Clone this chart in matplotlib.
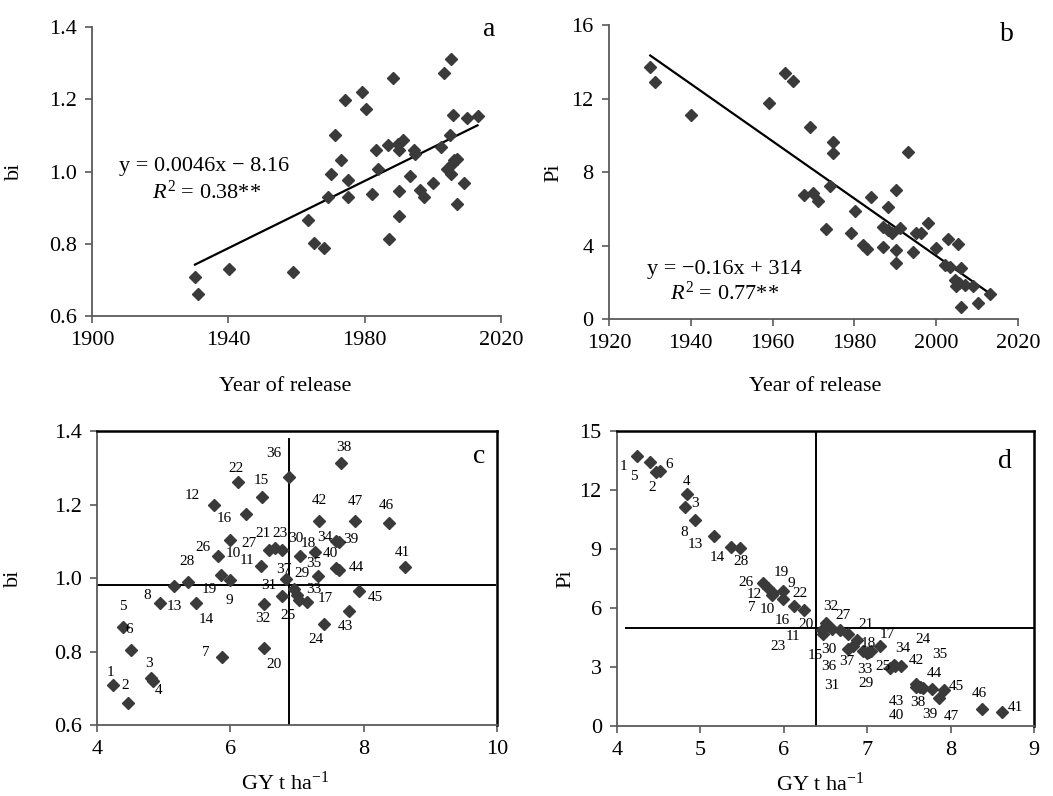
import numpy as np
import matplotlib
matplotlib.use("Agg")
import matplotlib.pyplot as plt

plt.rcParams['font.family'] = 'Liberation Serif'
plt.rcParams['mathtext.fontset'] = 'custom'
plt.rcParams['mathtext.rm'] = 'Liberation Serif'
plt.rcParams['mathtext.it'] = 'Liberation Serif:italic'

# panel a: year of release vs bi
year_a = [1930.2, 1931.2, 1940.3, 1959.1, 1963.5, 1965.2, 1968.2, 1969.2, 1970.1, 1971.3,
          1973.1, 1974.3, 1975.2, 1975.2, 1979.2, 1980.3, 1982.1, 1983.2, 1984.0, 1986.9,
          1987.0, 1988.2, 1989.7, 1990.1, 1990.1, 1990.2, 1991.2, 1993.2, 1994.4, 1994.9,
          1996.1, 1997.5, 2000.1, 2002.4, 2003.2, 2004.2, 2004.9, 2005.2, 2005.3, 2006.0,
          2006.2, 2007.0, 2007.2, 2009.0, 2010.0, 2013.1, 2005.6]
bi_a = [0.709, 0.661, 0.729, 0.723, 0.865, 0.801, 0.787, 0.930, 0.993, 1.100,
        1.031, 1.199, 0.976, 0.930, 1.220, 1.172, 0.937, 1.061, 1.008, 1.073,
        0.812, 1.260, 1.077, 0.947, 0.876, 1.059, 1.088, 0.987, 1.059, 1.048,
        0.948, 0.930, 0.969, 1.068, 1.273, 1.008, 1.100, 0.994, 1.312, 1.156,
        1.031, 0.910, 1.036, 0.967, 1.149, 1.153, 1.020]

# panel b: year of release vs Pi
year_b = [1930.1, 1931.2, 1940.1, 1959.1, 1963.0, 1965.0, 1967.8, 1969.1, 1969.9, 1971.1,
          1973.1, 1974.0, 1974.9, 1974.9, 1979.1, 1980.1, 1982.1, 1983.2, 1984.1, 1987.0,
          1987.0, 1988.2, 1988.2, 1989.3, 1990.1, 1990.1, 1990.1, 1991.1, 1993.1, 1994.3,
          1995.0, 1996.2, 1998.0, 2000.0, 2002.1, 2002.9, 2003.3, 2004.5, 2004.9, 2005.3,
          2005.7, 2006.1, 2006.1, 2007.0, 2009.0, 2010.2, 2013.1]
pi_b = [13.74, 12.92, 11.11, 11.78, 13.41, 12.97, 6.76, 10.47, 6.85, 6.45,
        4.89, 7.27, 9.66, 9.06, 4.67, 5.91, 4.04, 3.81, 6.67, 3.91,
        5.04, 6.12, 4.86, 4.67, 7.03, 3.77, 3.04, 4.95, 9.11, 3.68,
        4.67, 4.67, 5.25, 3.86, 2.95, 4.35, 2.86, 2.14, 1.81, 4.08,
        1.96, 2.77, 0.69, 1.87, 1.81, 0.87, 1.38]

# panels c and d: genotypes 1-47
genotype = list(range(1, 48))
gy = [4.24, 4.465, 4.81, 4.84, 4.39, 4.515, 5.87, 4.94, 5.99, 5.99,
      6.46, 5.75, 5.16, 5.48, 6.47, 6.24, 7.15, 7.05, 5.86, 6.50,
      6.675, 6.12, 6.775, 7.41, 7.025, 5.81, 6.575, 5.37, 6.95, 7.275,
      6.775, 6.50, 7.00, 7.585, 7.315, 6.875, 6.835, 7.665, 7.635, 7.585,
      8.62, 7.33, 7.775, 7.635, 7.925, 8.38, 7.865]
bi = [0.709, 0.661, 0.728, 0.719, 0.866, 0.803, 0.786, 0.932, 0.994, 1.103,
      1.033, 1.200, 0.977, 0.932, 1.221, 1.173, 0.936, 1.059, 1.007, 0.810,
      1.083, 1.260, 1.075, 0.874, 0.939, 1.059, 1.077, 0.989, 0.971, 1.071,
      0.950, 0.930, 0.953, 1.100, 1.005, 1.275, 0.998, 1.314, 1.098, 1.028,
      1.030, 1.155, 0.909, 1.023, 0.966, 1.150, 1.155]
pi = [13.74, 12.92, 11.11, 11.78, 13.41, 12.97, 6.76, 10.47, 6.85, 6.45,
      4.89, 7.27, 9.66, 9.06, 4.67, 5.91, 4.04, 3.81, 6.67, 5.04,
      4.86, 6.12, 4.67, 3.04, 3.77, 7.03, 4.95, 9.11, 3.80, 2.95,
      3.90, 5.25, 3.70, 2.14, 3.10, 4.35, 4.08, 1.95, 2.00, 1.99,
      0.69, 3.05, 1.87, 1.96, 1.81, 0.88, 1.42]

# reference lines
bi_ref_c, gy_ref_c = 0.982, 6.88
pi_ref_d, gy_ref_d = 5.0, 6.38

# label offsets in pixels (dx, dy) for genotype numbers
off_c = [(-3, 12), (-3, 17), (-2, 14), (6, -9), (0, 21), (-2, 21), (-16, 4), (-12, 8), (0, -20), (4, -13),
         (-14, 5), (-21, 9), (0, -20), (11, -16), (0, 16), (-22, -4), (18, 3), (8, 13), (-12, -14), (10, -17),
         (-12, 14), (-2, 14), (-2, 17), (-8, -15), (-11, -15), (-15, 9), (-20, 6), (-1, 21), (8, 15), (-20, 13),
         (-13, 11), (-1, -15), (17, 6), (-11, 4), (-4, 13), (-15, 23), (-2, 9), (2, 15), (11, 3), (-6, 14),
         (-3, 14), (0, 21), (-3, -15), (17, 2), (17, -7), (-3, 17), (1, 20)]
off_d = [(-14, -11), (-4, -16), (10, 4), (-1, 13), (-16, -14), (9, 6), (-21, -14), (-11, -12), (8, 8), (-16, -10),
         (-29, -7), (-9, -12), (-19, -9), (-23, -10), (-8, -21), (-22, -11), (8, 12), (-3, 8), (9, 22), (-20, 2),
         (26, 6), (6, 12), (-70, -12), (22, 27), (14, -15), (-22, 5), (11, 13), (10, -15), (3, -32), (-61, 18),
         (-17, -36), (5, 16), (-2, -16), (-13, 35), (46, 10), (-28, -26), (-7, -16), (-5, -15), (10, -28), (-20, -29),
         (13, 5), (22, 5), (-36, -12), (14, 14), (12, 4), (-3, 15), (12, -18)]

MK = dict(marker='D', ms=6.6, ls='none', color='#3a3a3a', mec='#3a3a3a', clip_on=False, zorder=3)
SPINE = '#5a5a5a'


def style_axes(ax, box=False):
    for s in ['left', 'bottom']:
        ax.spines[s].set_color(SPINE)
        ax.spines[s].set_linewidth(1.3)
    if box:
        for s in ['top', 'right']:
            ax.spines[s].set_color('black')
            ax.spines[s].set_linewidth(1.8)
    else:
        ax.spines['top'].set_visible(False)
        ax.spines['right'].set_visible(False)
    ax.tick_params(direction='out', length=5, width=1.2, color=SPINE, labelsize=16, pad=6)


def trend(ax, x, y):
    x = np.asarray(x)
    k, b = np.polyfit(x, np.asarray(y), 1)
    xs = np.array([x.min(), x.max()])
    ax.plot(xs, k * xs + b, color='black', lw=1.6, zorder=2)


def number_points(ax, x, y, offsets):
    for g, xi, yi, (dx, dy) in zip(genotype, x, y, offsets):
        ax.annotate(str(g), (xi, yi), xytext=(dx, dy), textcoords='offset pixels',
                    ha='center', va='center', fontsize=11, zorder=4)


fig = plt.figure(figsize=(10.53, 7.96), dpi=100)

# --- a ---
ax = fig.add_axes([0.0874, 0.603, 0.3884, 0.363])
ax.plot(year_a, bi_a, **MK)
trend(ax, year_a, bi_a)
ax.set_xlim(1900, 2020)
ax.set_ylim(0.6, 1.4)
ax.set_xticks([1900, 1940, 1980, 2020])
ax.set_yticks([0.6, 0.8, 1.0, 1.2, 1.4])
ax.set_yticklabels(['0.6', '0.8', '1.0', '1.2', '1.4'])
style_axes(ax)
ax.set_xlabel('Year of release', fontsize=16)
ax.set_ylabel('bi', fontsize=16)
ax.xaxis.set_label_coords(0.472, -0.21)
ax.yaxis.set_label_coords(-0.166, 0.5)
ax.text(0.066, 0.519, 'y = 0.0046x \u2212 8.16', transform=ax.transAxes, fontsize=16, va='center')
ax.text(0.147, 0.427, '$R^2$ = 0.38**', transform=ax.transAxes, fontsize=16, va='center')
ax.text(0.971, 0.99, 'a', transform=ax.transAxes, fontsize=20, ha='center', va='center')

# --- b ---
ax = fig.add_axes([0.5783, 0.599, 0.3884, 0.3693])
ax.plot(year_b, pi_b, **MK)
trend(ax, year_b, pi_b)
ax.set_xlim(1920, 2020)
ax.set_ylim(0, 16)
ax.set_xticks([1920, 1940, 1960, 1980, 2000, 2020])
ax.set_yticks([0, 4, 8, 12, 16])
style_axes(ax)
ax.set_xlabel('Year of release', fontsize=16)
ax.set_ylabel('Pi', fontsize=16)
ax.xaxis.set_label_coords(0.504, -0.197)
ax.yaxis.set_label_coords(-0.112, 0.5)
ax.text(0.092, 0.169, 'y = \u22120.16x + 314', transform=ax.transAxes, fontsize=16, va='center')
ax.text(0.149, 0.087, '$R^2$ = 0.77**', transform=ax.transAxes, fontsize=16, va='center')
ax.text(0.972, 0.968, 'b', transform=ax.transAxes, fontsize=20, ha='center', va='center')

# --- c ---
ax = fig.add_axes([0.0921, 0.0892, 0.380, 0.3693])
ax.plot([4, 9.97], [bi_ref_c, bi_ref_c], color='black', lw=1.4, zorder=2)
ax.plot([gy_ref_c, gy_ref_c], [0.6, 1.377], color='black', lw=1.4, zorder=2)
ax.plot(gy, bi, **MK)
number_points(ax, gy, bi, off_c)
ax.set_xlim(4, 10)
ax.set_ylim(0.6, 1.4)
ax.set_xticks([4, 6, 8, 10])
ax.set_yticks([0.6, 0.8, 1.0, 1.2, 1.4])
ax.set_yticklabels(['0.6', '0.8', '1.0', '1.2', '1.4'])
style_axes(ax, box=True)
ax.set_xlabel('GY t ha$^{\\mathrm{-1}}$', fontsize=16)
ax.set_ylabel('bi', fontsize=16)
ax.xaxis.set_label_coords(0.47, -0.16)
ax.yaxis.set_label_coords(-0.185, 0.5)
ax.text(0.956, 0.913, 'c', transform=ax.transAxes, fontsize=20, ha='center', va='center')

# --- d ---
ax = fig.add_axes([0.586, 0.088, 0.396, 0.3706])
ax.plot([4.11, 9], [pi_ref_d, pi_ref_d], color='black', lw=1.4, zorder=2)
ax.plot([gy_ref_d, gy_ref_d], [0, 15], color='black', lw=1.4, zorder=2)
ax.plot(gy, pi, **MK)
number_points(ax, gy, pi, off_d)
ax.set_xlim(4, 9)
ax.set_ylim(0, 15)
ax.set_xticks([4, 5, 6, 7, 8, 9])
ax.set_yticks([0, 3, 6, 9, 12, 15])
style_axes(ax, box=True)
ax.set_xlabel('GY t ha$^{\\mathrm{-1}}$', fontsize=16)
ax.set_ylabel('Pi', fontsize=16)
ax.xaxis.set_label_coords(0.487, -0.157)
ax.yaxis.set_label_coords(-0.1, 0.5)
ax.text(0.93, 0.895, 'd', transform=ax.transAxes, fontsize=20, ha='center', va='center')

fig.savefig('out.png', dpi=100)
plt.close(fig)
